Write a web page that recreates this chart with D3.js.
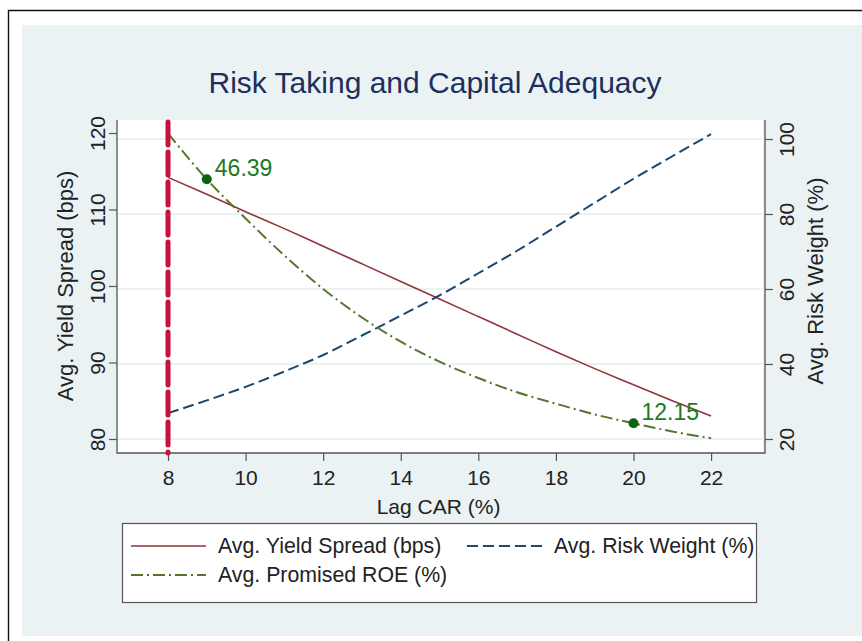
<!DOCTYPE html>
<html>
<head>
<meta charset="utf-8">
<script src="https://cdn.jsdelivr.net/npm/d3@7"></script>
<style>
  body { margin: 0; background: #fff; }
  svg { display: block; font-family: "Liberation Sans", Arial, sans-serif; }
</style>
</head>
<body>
<svg width="862" height="641"></svg>
<script>
// values
const car = [8, 9, 10, 11, 12, 13, 14, 15, 16, 17, 18, 19, 20, 21, 22];
const spread = [114.2, 112.0, 109.7, 107.5, 105.2, 102.9, 100.6, 98.3, 96.0, 93.7, 91.4, 89.2, 87.1, 85.0, 83.0];
const riskWeight = [26.9, 30.3, 33.9, 38.0, 42.4, 47.6, 52.9, 58.3, 64.2, 70.2, 76.6, 83.0, 89.4, 95.4, 101.3];
const roe = [52.85, 46.39, 40.9, 35.7, 31.0, 27.0, 23.6, 20.8, 18.5, 16.5, 14.9, 13.4, 12.15, 11.0, 10.05];
const marked = [{car: 9, roe: 46.39}, {car: 20, roe: 12.15}];
const minCar = 8;

const xTicks = [8, 10, 12, 14, 16, 18, 20, 22];
const leftTicks = [80, 90, 100, 110, 120];
const rightTicks = [20, 40, 60, 80, 100];

const legendItems = [
  {label: 'Avg. Yield Spread (bps)', cls: 'spread'},
  {label: 'Avg. Risk Weight (%)', cls: 'rw'},
  {label: 'Avg. Promised ROE (%)', cls: 'roe'},
];

const style = {
  spread: {stroke: '#90353b', width: 1.6, dash: null},
  rw: {stroke: '#1a476f', width: 2, dash: '11,5'},
  roe: {stroke: '#55752f', width: 2, dash: '12,4,2,4'},
};

const plot = {left: 117, right: 765, top: 120, bottom: 453};
const fs = 21;

const svg = d3.select('svg');

// outer frame and background
svg.append('path')
  .attr('d', 'M8.5,641 V10.5 H862')
  .attr('fill', 'none')
  .attr('stroke', '#111')
  .attr('stroke-width', 1.4);
svg.append('rect')
  .attr('x', 22).attr('y', 25)
  .attr('width', 840).attr('height', 611)
  .attr('fill', '#eaf2f3');
svg.append('rect')
  .attr('x', plot.left).attr('y', plot.top)
  .attr('width', plot.right - plot.left - 2).attr('height', plot.bottom - plot.top)
  .attr('fill', '#fff');

// scales
const x = d3.scaleLinear().domain([6.685, 23.39]).range([plot.left, plot.right]);
const yL = d3.scaleLinear().domain([80, 120]).range([439, 133]);
const yR = d3.scaleLinear().domain([20, 100]).range([439, 139]);
const yRoe = d3.scaleLinear().domain([10, 50]).range([438.6, 153.6]);

// grid
svg.append('g')
  .selectAll('line')
  .data(rightTicks)
  .enter()
  .append('line')
  .attr('x1', plot.left).attr('x2', plot.right - 2)
  .attr('y1', d => yR(d)).attr('y2', d => yR(d))
  .attr('stroke', '#e6eced')
  .attr('stroke-width', 1.5);

// axes
const axisColor = '#555';
const labelColor = '#222';

const gx = svg.append('g')
  .attr('transform', `translate(0,${plot.bottom})`)
  .call(d3.axisBottom(x).tickValues(xTicks).tickSize(8).tickPadding(9).tickSizeOuter(0));
gx.selectAll('text').attr('font-size', fs).attr('fill', labelColor);

const gl = svg.append('g')
  .attr('transform', `translate(${plot.left},0)`)
  .call(d3.axisLeft(yL).tickValues(leftTicks).tickSize(8).tickSizeOuter(0));
gl.selectAll('text')
  .attr('font-size', fs).attr('fill', labelColor)
  .attr('x', 0).attr('y', -12).attr('dy', 0)
  .attr('text-anchor', 'middle')
  .attr('transform', 'rotate(-90)');

const gr = svg.append('g')
  .attr('transform', `translate(${plot.right},0)`)
  .call(d3.axisRight(yR).tickValues(rightTicks).tickSize(8).tickSizeOuter(0));
gr.selectAll('text')
  .attr('font-size', fs).attr('fill', labelColor)
  .attr('x', 0).attr('y', 29).attr('dy', 0)
  .attr('text-anchor', 'middle')
  .attr('transform', 'rotate(-90)');

[gx, gl, gr].forEach((g) => {
  g.select('.domain').remove();
  g.selectAll('line').attr('stroke', axisColor).attr('stroke-width', 1.2);
});

// axis lines spanning the plot region
svg.append('path')
  .attr('d', `M${plot.left},${plot.top} V${plot.bottom} H${plot.right} V${plot.top}`)
  .attr('fill', 'none')
  .attr('stroke', axisColor)
  .attr('stroke-width', 1.3);

// axis titles
svg.append('text')
  .attr('transform', 'translate(73,286) rotate(-90)')
  .attr('text-anchor', 'middle')
  .attr('font-size', fs + 1).attr('fill', labelColor)
  .text('Avg. Yield Spread (bps)');
svg.append('text')
  .attr('transform', 'translate(823,281) rotate(-90)')
  .attr('text-anchor', 'middle')
  .attr('font-size', fs + 1).attr('fill', labelColor)
  .text('Avg. Risk Weight (%)');
svg.append('text')
  .attr('x', x(15) - 1).attr('y', 514)
  .attr('text-anchor', 'middle')
  .attr('font-size', fs).attr('fill', labelColor)
  .text('Lag CAR (%)');

// title
svg.append('text')
  .attr('x', 435).attr('y', 93)
  .attr('text-anchor', 'middle')
  .attr('font-size', 30).attr('fill', '#1d2f5e')
  .text('Risk Taking and Capital Adequacy');

// series
const rows = car.map((c, i) => ({car: c, spread: spread[i], rw: riskWeight[i], roe: roe[i]}));

function drawLine(cls, yScale) {
  const s = style[cls];
  svg.append('path')
    .datum(rows)
    .attr('class', cls)
    .attr('fill', 'none')
    .attr('stroke', s.stroke)
    .attr('stroke-width', s.width)
    .attr('stroke-dasharray', s.dash)
    .attr('d', d3.line()
      .curve(d3.curveMonotoneX)
      .x(d => x(d.car))
      .y(d => yScale(d[cls])));
}
drawLine('spread', yL);
drawLine('rw', yR);
drawLine('roe', yRoe);

// minimum CAR reference line
svg.append('line')
  .attr('x1', x(minCar)).attr('x2', x(minCar))
  .attr('y1', plot.top + 2).attr('y2', plot.bottom)
  .attr('stroke', '#c8113f')
  .attr('stroke-width', 5)
  .attr('stroke-linecap', 'round')
  .attr('stroke-dasharray', '23,7');

// marked ROE points with labels
svg.selectAll('.mark')
  .data(marked)
  .enter()
  .append('circle')
  .attr('class', 'mark')
  .attr('cx', d => x(d.car))
  .attr('cy', d => yRoe(d.roe))
  .attr('r', 5)
  .attr('fill', '#0b640f');
svg.selectAll('.mark-label')
  .data(marked)
  .enter()
  .append('text')
  .attr('class', 'mark-label')
  .attr('x', d => x(d.car) + 8)
  .attr('y', d => yRoe(d.roe) - 3)
  .attr('font-size', 23)
  .attr('fill', '#1c7a1c')
  .text(d => d.roe.toFixed(2));

// legend
const lg = svg.append('g');
lg.append('rect')
  .attr('x', 122.5).attr('y', 523.5)
  .attr('width', 634).attr('height', 79)
  .attr('fill', '#fff')
  .attr('stroke', '#555')
  .attr('stroke-width', 1.2);
const legendPos = [
  {x: 131, y: 546},
  {x: 467, y: 546},
  {x: 131, y: 575},
];
legendItems.forEach((item, i) => {
  const p = legendPos[i];
  const s = style[item.cls];
  lg.append('line')
    .attr('x1', p.x).attr('x2', p.x + 75)
    .attr('y1', p.y).attr('y2', p.y)
    .attr('stroke', s.stroke)
    .attr('stroke-width', s.width)
    .attr('stroke-dasharray', s.dash);
  lg.append('text')
    .attr('x', p.x + 87).attr('y', p.y + 7)
    .attr('font-size', 21.3).attr('fill', labelColor)
    .text(item.label);
});
</script>
</body>
</html>
